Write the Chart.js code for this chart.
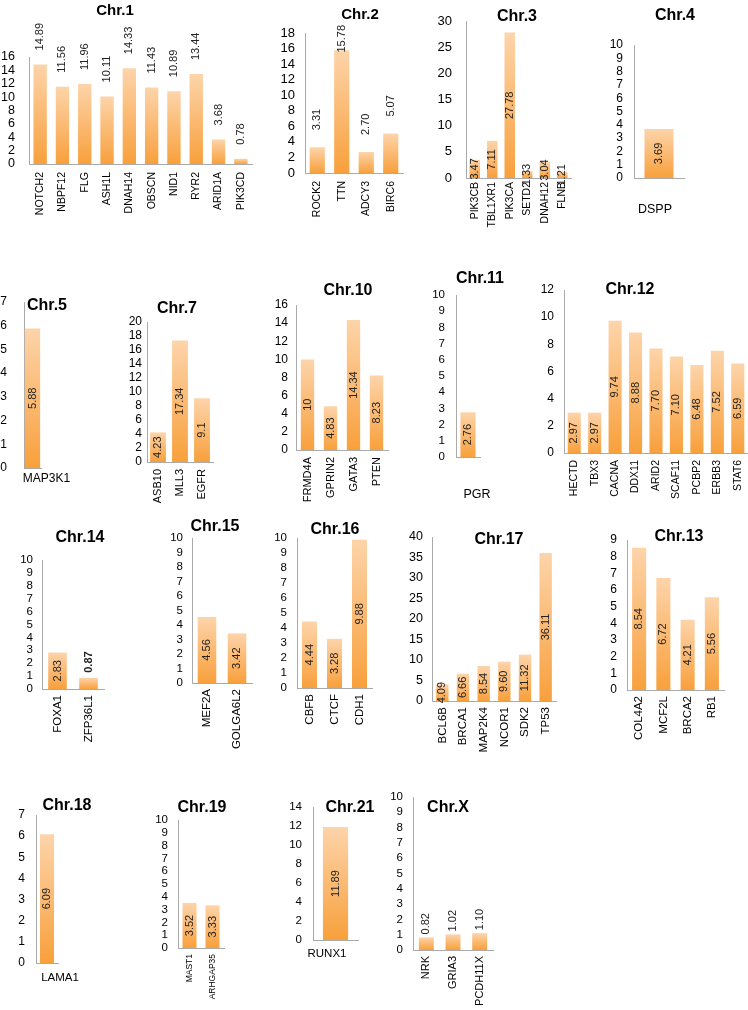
<!DOCTYPE html>
<html lang="en">
<head>
<meta charset="UTF-8">
<title>Mutation frequency by chromosome</title>
<style>
  * { margin: 0; padding: 0; box-sizing: border-box; }
  html, body { width: 748px; height: 1010px; overflow: hidden; background: #fff; }
  #page { position: relative; width: 748px; height: 1010px; }
  canvas { position: absolute; }
  .title {
    position: absolute;
    font-family: 'Liberation Sans', Arial, sans-serif;
    font-weight: bold;
    color: #000;
    transform: translate(-50%, -50%);
    white-space: nowrap;
  }
</style>
<script src="https://cdn.jsdelivr.net/npm/chart.js"></script>
</head>
<body>
<div id="page"></div>
<script>
// values per chromosome (kept as printed, converted to numbers for the bars)
const chr1Genes = ['NOTCH2', 'NBPF12', 'FLG', 'ASH1L', 'DNAH14', 'OBSCN', 'NID1', 'RYR2', 'ARID1A', 'PIK3CD'];
const chr1Values = ['14.89', '11.56', '11.96', '10.11', '14.33', '11.43', '10.89', '13.44', '3.68', '0.78'];
const chr1Scale = [16, 2];

const chr2Genes = ['ROCK2', 'TTN', 'ADCY3', 'BIRC6'];
const chr2Values = ['3.31', '15.78', '2.70', '5.07'];
const chr2Scale = [18, 2];

const chr3Genes = ['PIK3CB', 'TBL1XR1', 'PIK3CA', 'SETD2', 'DNAH12', 'FLNB'];
const chr3Values = ['3.47', '7.11', '27.78', '1.33', '3.04', '1.21'];
const chr3Scale = [30, 5];

const chr4Genes = ['DSPP'];
const chr4Values = ['3.69'];
const chr4Scale = [10, 1];

const chr5Genes = ['MAP3K1'];
const chr5Values = ['5.88'];
const chr5Scale = [7, 1];

const chr7Genes = ['ASB10', 'MLL3', 'EGFR'];
const chr7Values = ['4.23', '17.34', '9.1'];
const chr7Scale = [20, 2];

const chr10Genes = ['FRMD4A', 'GPRIN2', 'GATA3', 'PTEN'];
const chr10Values = ['10', '4.83', '14.34', '8.23'];
const chr10Scale = [16, 2];

const chr11Genes = ['PGR'];
const chr11Values = ['2.76'];
const chr11Scale = [10, 1];

const chr12Genes = ['HECTD', 'TBX3', 'CACNA', 'DDX11', 'ARID2', 'SCAF11', 'PCBP2', 'ERBB3', 'STAT6'];
const chr12Values = ['2.97', '2.97', '9.74', '8.88', '7.70', '7.10', '6.48', '7.52', '6.59'];
const chr12Scale = [12, 2];

const chr14Genes = ['FOXA1', 'ZFP36L1'];
const chr14Values = ['2.83', '0.87'];
const chr14Scale = [10, 1];

const chr15Genes = ['MEF2A', 'GOLGA6L2'];
const chr15Values = ['4.56', '3.42'];
const chr15Scale = [10, 1];

const chr16Genes = ['CBFB', 'CTCF', 'CDH1'];
const chr16Values = ['4.44', '3.28', '9.88'];
const chr16Scale = [10, 1];

const chr17Genes = ['BCL6B', 'BRCA1', 'MAP2K4', 'NCOR1', 'SDK2', 'TP53'];
const chr17Values = ['4.09', '6.66', '8.54', '9.60', '11.32', '36.11'];
const chr17Scale = [40, 5];

const chr13Genes = ['COL4A2', 'MCF2L', 'BRCA2', 'RB1'];
const chr13Values = ['8.54', '6.72', '4.21', '5.56'];
const chr13Scale = [9, 1];

const chr18Genes = ['LAMA1'];
const chr18Values = ['6.09'];
const chr18Scale = [7, 1];

const chr19Genes = ['MAST1', 'ARHGAP35'];
const chr19Values = ['3.52', '3.33'];
const chr19Scale = [10, 1];

const chr21Genes = ['RUNX1'];
const chr21Values = ['11.89'];
const chr21Scale = [14, 2];

const chrXGenes = ['NRK', 'GRIA3', 'PCDH11X'];
const chrXValues = ['0.82', '1.02', '1.10'];
const chrXScale = [10, 1];

const FONT = "'Liberation Sans', Arial, sans-serif";
const AXIS = '#aaaaaa';
Chart.defaults.font.family = FONT;

// box = plot area [left, top(max), right, bottom(0)], tick = [size, gap], cat = [size, rotation, gap, offset]
// label = [mode, offset, maxOver], head = [centerX, centerY, size]
const panels = [
  { title: 'Chr.1', genes: chr1Genes, values: chr1Values, scale: chr1Scale, box: [29, 57, 252, 164], tick: [12.5, 14], cat: [10.5, 90, 8, 0], bar: 0.6, label: ['end', 14, 60], head: [115, 9, 15] },
  { title: 'Chr.2', genes: chr2Genes, values: chr2Values, scale: chr2Scale, box: [305, 33, 403, 173], tick: [13, 10], cat: [10.5, 90, 8, 0], bar: 0.62, label: ['end', 17, 8], head: [360, 13, 15] },
  { title: 'Chr.3', genes: chr3Genes, values: chr3Values, scale: chr3Scale, box: [466, 21, 571, 178], tick: [13, 14], cat: [10.5, 90, 4, 0], bar: 0.6, label: ['center'], head: [517, 16, 16] },
  { title: 'Chr.4', genes: chr4Genes, values: chr4Values, scale: chr4Scale, box: [634, 45, 684, 178], tick: [12, 11], cat: [12.5, 0, 24, -4], bar: 0.58, label: ['center'], head: [675, 15, 16] },
  { title: 'Chr.5', genes: chr5Genes, values: chr5Values, scale: chr5Scale, box: [24, 302, 41, 468], tick: [12, 17], cat: [12, 0, 3, 14], bar: 0.9, label: ['center'], head: [47, 305, 16] },
  { title: 'Chr.7', genes: chr7Genes, values: chr7Values, scale: chr7Scale, box: [147, 322, 213, 462], tick: [12, 5], cat: [11, 90, 7, 0], bar: 0.72, label: ['center'], head: [177, 308, 16] },
  { title: 'Chr.10', genes: chr10Genes, values: chr10Values, scale: chr10Scale, box: [296, 305, 388, 450], tick: [12, 8], cat: [11, 90, 7, 0], bar: 0.58, label: ['center'], head: [348, 290, 16] },
  { title: 'Chr.11', genes: chr11Genes, values: chr11Values, scale: chr11Scale, box: [456, 295, 480, 457], tick: [11.5, 11], cat: [12.5, 0, 30, 9], bar: 0.63, label: ['center'], head: [480, 278, 16] },
  { title: 'Chr.12', genes: chr12Genes, values: chr12Values, scale: chr12Scale, box: [564, 290, 748, 453], tick: [12, 10], cat: [10.5, 90, 7, 0], bar: 0.64, label: ['center'], head: [630, 289, 16] },
  { title: 'Chr.14', genes: chr14Genes, values: chr14Values, scale: chr14Scale, box: [42, 560, 104, 689], tick: [11.5, 9], cat: [11.5, 90, 6, 0], bar: 0.6, label: [['center', 'end'], 5, 60, [1]], head: [80, 537, 16] },
  { title: 'Chr.15', genes: chr15Genes, values: chr15Values, scale: chr15Scale, box: [192, 538, 252, 683], tick: [11.5, 9], cat: [11.5, 90, 6, 0], bar: 0.62, label: ['center'], head: [215, 526, 16] },
  { title: 'Chr.16', genes: chr16Genes, values: chr16Values, scale: chr16Scale, box: [297, 538, 372, 688], tick: [11.5, 10], cat: [11.5, 90, 6, 0], bar: 0.6, label: ['center'], head: [335, 529, 16] },
  { title: 'Chr.17', genes: chr17Genes, values: chr17Values, scale: chr17Scale, box: [432, 537, 556, 701], tick: [12.5, 9], cat: [11.5, 90, 6, 0], bar: 0.6, label: ['center'], head: [499, 539, 16] },
  { title: 'Chr.13', genes: chr13Genes, values: chr13Values, scale: chr13Scale, box: [627, 540, 724, 690], tick: [12, 10], cat: [11.5, 90, 6, 0], bar: 0.58, label: ['center'], head: [679, 536, 16] },
  { title: 'Chr.18', genes: chr18Genes, values: chr18Values, scale: chr18Scale, box: [36, 815, 58, 963], tick: [12, 11], cat: [11.5, 0, 8, 13], bar: 0.64, label: ['center'], head: [67, 805, 16] },
  { title: 'Chr.19', genes: chr19Genes, values: chr19Values, scale: chr19Scale, box: [178, 820, 224, 948], tick: [11.5, 10], cat: [8.5, 90, 6, 0], bar: 0.61, label: ['center'], head: [202, 807, 16] },
  { title: 'Chr.21', genes: chr21Genes, values: chr21Values, scale: chr21Scale, box: [313, 807, 358, 940], tick: [11.5, 11], cat: [11.5, 0, 7, -8.5], bar: 0.56, label: ['center'], head: [350, 807, 16] },
  { title: 'Chr.X', genes: chrXGenes, values: chrXValues, scale: chrXScale, box: [413, 797, 493, 950], tick: [11.5, 10], cat: [11, 90, 6, 0], bar: 0.56, label: ['end', 3, 60], head: [448, 807, 16] }
];

// rotated numbers on the bars
const valueLabels = {
  id: 'valueLabels',
  afterDatasetsDraw(chart, args, opts) {
    const ctx = chart.ctx;
    const area = chart.chartArea;
    const bars = chart.getDatasetMeta(0).data;
    bars.forEach((bar, i) => {
      const txt = opts.texts[i];
      const mode = Array.isArray(opts.mode) ? opts.mode[i] : opts.mode;
      const bold = opts.bold.includes(i);
      ctx.save();
      ctx.font = (bold ? 'bold ' : '') + '11px ' + FONT;
      const w = ctx.measureText(txt).width;
      let cy;
      if (mode === 'end') {
        cy = bar.y - opts.offset - w / 2;
        const minTop = area.top - opts.maxOver;
        if (cy - w / 2 < minTop) cy = minTop + w / 2;
      } else {
        cy = (bar.y + bar.base) / 2;
      }
      ctx.translate(bar.x, cy);
      ctx.rotate(-Math.PI / 2);
      ctx.textAlign = 'center';
      ctx.textBaseline = 'middle';
      ctx.fillStyle = '#222';
      ctx.fillText(txt, 0, 0);
      ctx.restore();
    });
  }
};

function barFill(c) {
  const chart = c.chart;
  const y = chart.scales.y;
  if (!chart.chartArea || !y || !c.parsed) return '#f9aa50';
  const top = y.getPixelForValue(c.parsed.y);
  const base = y.getPixelForValue(0);
  const g = chart.ctx.createLinearGradient(0, top, 0, base);
  g.addColorStop(0, '#fdd4aa');
  g.addColorStop(1, '#f8a03c');
  return g;
}

const page = document.getElementById('page');

panels.forEach(p => {
  const [L, T, R, B] = p.box;
  const [catSize, rot, catGap, catShift] = p.cat;
  const x0 = Math.max(0, L - 45);
  const y0 = Math.max(0, T - 45);
  const padL = L - x0, padT = T - y0, padR = 45;
  const padB = rot ? 80 : 45;
  const w = R - x0 + padR, h = B - y0 + padB;

  const cv = document.createElement('canvas');
  cv.width = w; cv.height = h;
  cv.style.left = x0 + 'px'; cv.style.top = y0 + 'px';
  cv.style.width = w + 'px'; cv.style.height = h + 'px';
  page.appendChild(cv);

  const lab = p.label;
  new Chart(cv, {
    type: 'bar',
    data: {
      labels: p.genes,
      datasets: [{
        data: p.values.map(Number),
        backgroundColor: barFill,
        borderWidth: 0,
        barPercentage: p.bar,
        categoryPercentage: 1
      }]
    },
    plugins: [valueLabels],
    options: {
      responsive: false,
      animation: false,
      layout: { padding: { left: 0, top: padT, right: padR, bottom: 0 } },
      plugins: {
        legend: { display: false },
        tooltip: { enabled: false },
        valueLabels: {
          texts: p.values,
          mode: lab[0],
          offset: lab[1] || 0,
          maxOver: lab[2] || 0,
          bold: lab[3] || []
        }
      },
      scales: {
        x: {
          grid: { display: false, drawTicks: false },
          border: { color: AXIS, width: 1 },
          ticks: {
            color: '#000',
            font: { size: catSize },
            minRotation: rot, maxRotation: rot,
            padding: catGap,
            labelOffset: catShift,
            autoSkip: false
          },
          afterFit(s) {
            s.height = padB;
            s.paddingLeft = s.paddingRight = s.paddingTop = s.paddingBottom = 0;
          }
        },
        y: {
          min: 0,
          max: p.scale[0],
          grid: { display: false, drawTicks: false },
          border: { color: AXIS, width: 1 },
          ticks: {
            stepSize: p.scale[1],
            color: '#000',
            font: { size: p.tick[0] },
            padding: p.tick[1],
            autoSkip: false
          },
          afterFit(s) {
            s.width = padL;
            s.paddingLeft = s.paddingRight = s.paddingTop = s.paddingBottom = 0;
          }
        }
      }
    }
  });

  const t = document.createElement('div');
  t.className = 'title';
  t.textContent = p.title;
  t.style.left = p.head[0] + 'px';
  t.style.top = p.head[1] + 'px';
  t.style.fontSize = p.head[2] + 'px';
  page.appendChild(t);
});
</script>
</body>
</html>
